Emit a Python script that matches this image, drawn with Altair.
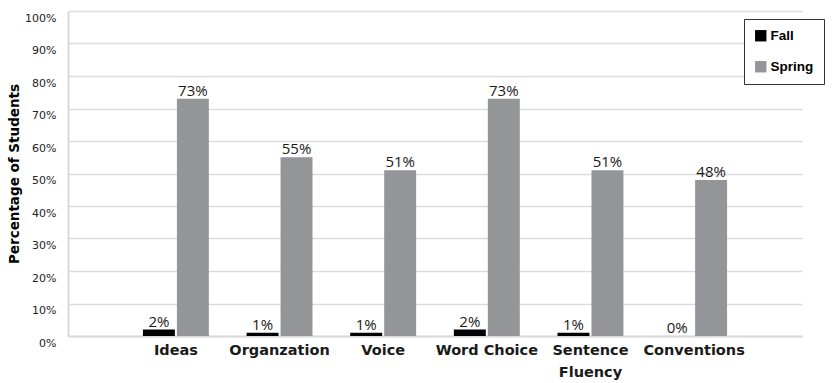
import altair as alt
import pandas as pd

categories = ["Ideas", "Organzation", "Voice", "Word Choice", "Sentence Fluency", "Conventions"]
fall = [2, 1, 1, 2, 1, 0]
spring = [73, 55, 51, 73, 51, 48]
terms = ["Fall", "Spring"]
colors = ["#000000", "#939598"]
y_ticks = list(range(0, 101, 10))

rows = []
for c, f, s in zip(categories, fall, spring):
    rows.append({"category": c, "term": "Fall", "value": f})
    rows.append({"category": c, "term": "Spring", "value": s})
df = pd.DataFrame(rows)
df["label"] = df["value"].astype(str) + "%"

COND = "DejaVu Sans"

x = alt.X(
    "category:N",
    sort=categories,
    scale=alt.Scale(paddingInner=0.364, paddingOuter=0.723),
    axis=alt.Axis(
        title=None,
        labelAngle=0,
        labelFont=COND,
        labelFontWeight="bold",
        labelFontSize=14.5,
        labelColor="#1a1a1a",
        labelPadding=7,
        labelBaseline="top",
        labelLineHeight=22,
        labelExpr="datum.label == 'Sentence Fluency' ? ['Sentence', 'Fluency'] : datum.label",
        ticks=False,
        domainColor="#d9d9d9",
        domainWidth=2,
    ),
)
xo = alt.XOffset("term:N", sort=terms, scale=alt.Scale(paddingInner=0.06))
y = alt.Y(
    "value:Q",
    scale=alt.Scale(domain=[0, 100]),
    axis=alt.Axis(
        title="Percentage of Students",
        values=y_ticks,
        labelOverlap=False,
        labelExpr="datum.value + '%'",
        labelFont=COND,
        labelFontSize=11,
        labelColor="#222222",
        labelPadding=12,
        labelOffset=7,
        ticks=False,
        domainColor="#d9d9d9",
        domainWidth=2,
        gridColor="#dcdcdc",
        gridWidth=1.5,
        titleFont=COND,
        titleFontWeight="bold",
        titleFontSize=13.5,
        titleColor="#000000",
        titlePadding=3,
    ),
)

bars = alt.Chart(df).mark_bar().encode(
    x=x,
    xOffset=xo,
    y=y,
    color=alt.Color(
        "term:N",
        sort=terms,
        scale=alt.Scale(domain=terms, range=colors),
        legend=alt.Legend(
            title=None,
            orient="none",
            legendX=676,
            legendY=8,
            symbolType="square",
            symbolSize=130,
            symbolStrokeWidth=0,
            symbolOffset=0,
            labelFont="Liberation Sans",
            labelFontWeight="bold",
            labelFontSize=13.5,
            labelColor="#000000",
            labelOffset=3,
            rowPadding=16,
            padding=10,
            fillColor="white",
            strokeColor="#333333",
        ),
    ),
)

text = alt.Chart(df).mark_text(
    baseline="alphabetic", dy=-3, font="Open Sans", fontSize=15, color="#1a1a1a"
).encode(
    x=x,
    xOffset=xo,
    y=y,
    text="label:N",
)

chart = (
    alt.layer(bars, text)
    .properties(
        width=734,
        height=325,
        autosize=alt.AutoSizeParams(type="none"),
        padding={"left": 68, "top": 11, "right": 31, "bottom": 47},
        background="white",
    )
    .configure_view(stroke=None)
)

chart.save("out.html", embed_options={"renderer": "svg", "actions": False})
